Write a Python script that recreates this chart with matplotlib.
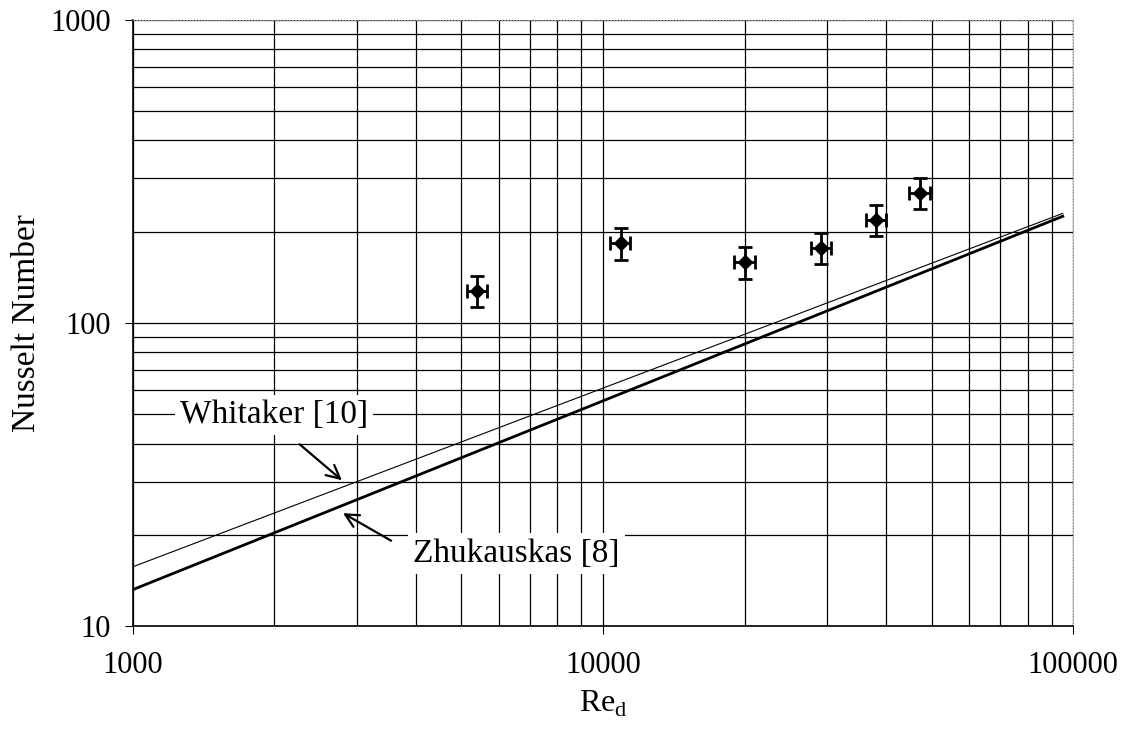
import numpy as np
import matplotlib
matplotlib.use("Agg")
import matplotlib.pyplot as plt
import matplotlib.ticker as ticker

plt.rcParams["font.family"] = ["Liberation Serif", "DejaVu Serif"]
plt.rcParams["mathtext.fontset"] = "custom"
plt.rcParams["mathtext.rm"] = "Liberation Serif"

# measured points
re_data = [5400, 10900, 20000, 29100, 38100, 47200]
nu_data = [128, 184, 159, 177, 219, 269]
nu_err = [15, 22, 19, 21, 26, 32]
re_err = [270, 540, 1000, 1450, 1900, 2350]

# correlations (straight on log-log)
re_line = [1000, 95000]
nu_whitaker = [15.7, 230]
nu_zhukauskas = [13.2, 225]

fig = plt.figure(figsize=(11.25, 7.35), dpi=100)
ax = fig.add_axes([0.118, 0.148, 0.836, 0.825])

ax.plot(re_line, nu_whitaker, color="black", lw=0.8)
ax.plot(re_line, nu_zhukauskas, color="black", lw=2.0)
ax.errorbar(re_data, nu_data, yerr=nu_err, xerr=re_err, fmt="D", color="black",
            ms=7, elinewidth=2, capsize=5, capthick=2)

ax.set_xscale("log")
ax.set_yscale("log")
ax.set_xlim(1000, 100000)
ax.set_ylim(10, 1000)

ax.xaxis.set_major_formatter(ticker.FuncFormatter(lambda v, p: "%d" % round(v)))
ax.yaxis.set_major_formatter(ticker.FuncFormatter(lambda v, p: "%d" % round(v)))
ax.xaxis.set_minor_formatter(ticker.NullFormatter())
ax.yaxis.set_minor_formatter(ticker.NullFormatter())
ax.tick_params(which="major", direction="out", length=6, labelsize=22, pad=12)
ax.tick_params(axis="y", which="major", pad=10)
ax.tick_params(which="minor", length=0)
ax.grid(True, which="both", color="black", lw=0.9)

for s in ["top", "right"]:
    ax.spines[s].set_color("#999999")
    ax.spines[s].set_linestyle(":")
for s in ["left", "bottom"]:
    ax.spines[s].set_linewidth(1.2)

ax.set_xlabel(r"Re$_\mathregular{d}$", fontsize=23, labelpad=6)
ax.set_ylabel("Nusselt Number", fontsize=24, va="center")
ax.yaxis.set_label_coords(-0.113, 0.5)

ax.annotate("Whitaker [10]", xy=(2785, 30.3), xytext=(1259, 49.7), fontsize=24,
            ha="left", va="center",
            bbox=dict(boxstyle="square,pad=0.15", fc="white", ec="none"),
            arrowprops=dict(arrowstyle="->", color="black", lw=1.6, relpos=(0.55, 0),
                            shrinkA=10, shrinkB=0, mutation_scale=24))
ax.annotate("Zhukauskas [8]", xy=(2800, 23.6), xytext=(3945, 17.4), fontsize=24,
            ha="left", va="center",
            bbox=dict(boxstyle="square,pad=0.15", fc="white", ec="none"),
            arrowprops=dict(arrowstyle="->", color="black", lw=1.6, relpos=(0, 0.5),
                            shrinkA=14, shrinkB=0, mutation_scale=24))

fig.savefig("out.png", dpi=100)
